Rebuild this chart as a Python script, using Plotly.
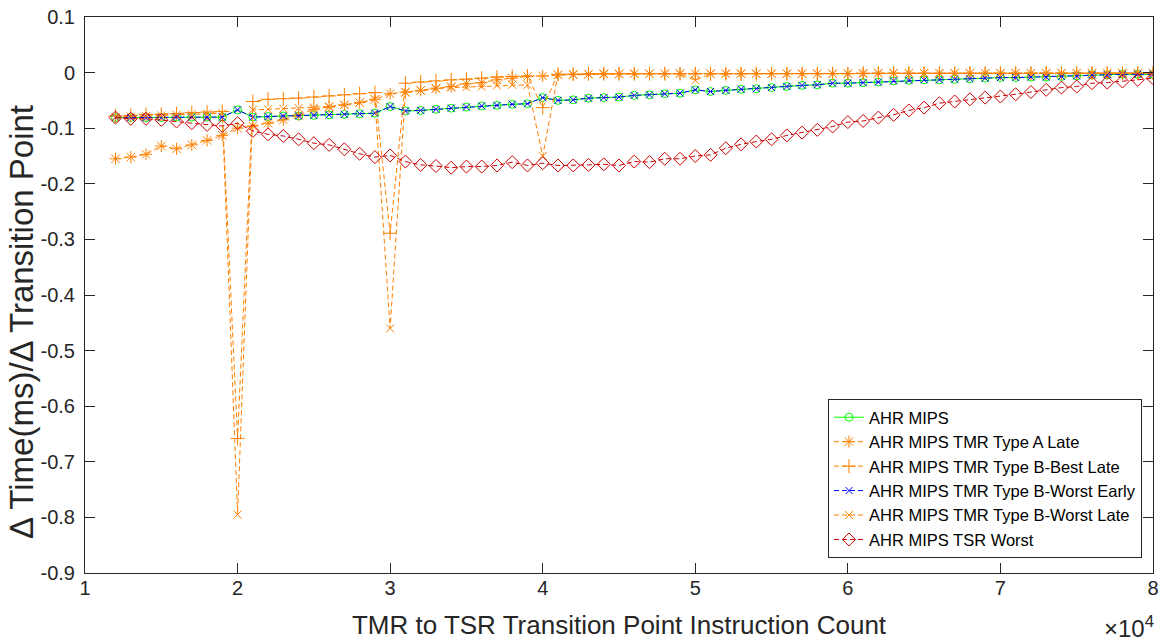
import plotly.graph_objects as go

# Instruction count (x)
instr_count = [12000, 13000, 14000, 15000, 16000, 17000, 18000, 19000, 20000, 21000,
               22000, 23000, 24000, 25000, 26000, 27000, 28000, 29000, 30000, 31000,
               32000, 33000, 34000, 35000, 36000, 37000, 38000, 39000, 40000, 41000,
               42000, 43000, 44000, 45000, 46000, 47000, 48000, 49000, 50000, 51000,
               52000, 53000, 54000, 55000, 56000, 57000, 58000, 59000, 60000, 61000,
               62000, 63000, 64000, 65000, 66000, 67000, 68000, 69000, 70000, 71000,
               72000, 73000, 74000, 75000, 76000, 77000, 78000, 79000, 80000]

ahr_mips = [-0.081, -0.081, -0.081, -0.081, -0.080, -0.080, -0.080, -0.080, -0.067, -0.080,
            -0.079, -0.078, -0.078, -0.077, -0.076, -0.075, -0.074, -0.073, -0.061, -0.069,
            -0.068, -0.066, -0.064, -0.062, -0.060, -0.059, -0.057, -0.056, -0.045, -0.050,
            -0.049, -0.046, -0.045, -0.044, -0.041, -0.040, -0.038, -0.037, -0.031, -0.034,
            -0.032, -0.030, -0.029, -0.027, -0.025, -0.023, -0.022, -0.019, -0.019, -0.018,
            -0.017, -0.015, -0.014, -0.013, -0.013, -0.012, -0.011, -0.010, -0.009, -0.009,
            -0.008, -0.008, -0.007, -0.006, -0.004, -0.004, -0.003, -0.003, -0.003]

tmr_a_late = [-0.155, -0.152, -0.147, -0.132, -0.137, -0.130, -0.122, -0.113, -0.100, -0.096,
              -0.091, -0.085, -0.076, -0.066, -0.062, -0.058, -0.054, -0.048, -0.038, -0.035,
              -0.032, -0.028, -0.025, -0.020, -0.018, -0.013, -0.010, -0.007, -0.006, -0.004,
              -0.003, -0.003, -0.002, -0.002, -0.002, -0.002, -0.002, -0.002, -0.002, -0.002,
              -0.002, -0.002, -0.002, -0.002, -0.002, -0.002, -0.002, -0.002, -0.002, -0.002,
              -0.001, -0.001, -0.001, -0.001, -0.001, -0.001, -0.001, -0.001, -0.001, -0.001,
              -0.001, -0.001, -0.001, -0.001, -0.001, -0.001, -0.001, -0.001, -0.001]

tmr_b_best_late = [-0.078, -0.077, -0.075, -0.075, -0.074, -0.072, -0.071, -0.070, -0.658, -0.052,
                   -0.048, -0.047, -0.046, -0.044, -0.042, -0.040, -0.038, -0.036, -0.289, -0.019,
                   -0.017, -0.015, -0.013, -0.012, -0.010, -0.008, -0.007, -0.006, -0.063, -0.003,
                   -0.003, -0.002, -0.002, -0.002, -0.002, -0.002, -0.002, -0.002, -0.002, -0.002,
                   -0.002, -0.002, -0.002, -0.002, -0.002, -0.002, -0.002, -0.002, -0.002, -0.001,
                   -0.001, -0.001, -0.001, -0.001, -0.001, -0.001, -0.001, -0.001, -0.001, -0.001,
                   -0.001, -0.001, -0.001, -0.001, -0.001, -0.001, -0.001, -0.001, -0.001]

tmr_b_worst_early = [-0.081, -0.081, -0.081, -0.081, -0.080, -0.080, -0.080, -0.080, -0.067, -0.080,
                     -0.079, -0.078, -0.078, -0.077, -0.076, -0.075, -0.074, -0.073, -0.061, -0.069,
                     -0.068, -0.066, -0.064, -0.062, -0.060, -0.059, -0.057, -0.056, -0.045, -0.050,
                     -0.049, -0.046, -0.045, -0.044, -0.041, -0.040, -0.038, -0.037, -0.031, -0.034,
                     -0.032, -0.030, -0.029, -0.027, -0.025, -0.023, -0.022, -0.019, -0.019, -0.018,
                     -0.017, -0.015, -0.014, -0.013, -0.013, -0.012, -0.011, -0.010, -0.009, -0.009,
                     -0.008, -0.008, -0.007, -0.006, -0.004, -0.004, -0.003, -0.003, -0.003]

tmr_b_worst_late = [-0.080, -0.079, -0.078, -0.077, -0.076, -0.075, -0.074, -0.073, -0.795, -0.067,
                    -0.066, -0.065, -0.064, -0.063, -0.061, -0.058, -0.054, -0.048, -0.460, -0.036,
                    -0.032, -0.029, -0.027, -0.026, -0.025, -0.023, -0.022, -0.022, -0.150, -0.004,
                    -0.004, -0.003, -0.003, -0.003, -0.002, -0.002, -0.002, -0.002, -0.014, -0.002,
                    -0.002, -0.002, -0.002, -0.002, -0.002, -0.002, -0.002, -0.002, -0.002, -0.001,
                    -0.001, -0.001, -0.001, -0.001, -0.001, -0.001, -0.001, -0.001, -0.001, -0.001,
                    -0.001, -0.001, -0.001, -0.001, -0.001, -0.001, -0.001, -0.001, -0.001]

tsr_worst = [-0.081, -0.083, -0.083, -0.085, -0.088, -0.091, -0.094, -0.096, -0.091, -0.105,
             -0.111, -0.114, -0.120, -0.127, -0.130, -0.138, -0.146, -0.152, -0.149, -0.160,
             -0.166, -0.168, -0.171, -0.169, -0.169, -0.167, -0.161, -0.167, -0.163, -0.167,
             -0.167, -0.166, -0.165, -0.167, -0.160, -0.161, -0.155, -0.155, -0.150, -0.148,
             -0.136, -0.129, -0.124, -0.120, -0.113, -0.108, -0.103, -0.097, -0.089, -0.087,
             -0.081, -0.076, -0.068, -0.063, -0.055, -0.052, -0.048, -0.045, -0.043, -0.039,
             -0.035, -0.031, -0.027, -0.025, -0.019, -0.018, -0.016, -0.013, -0.010]

series_names = ["AHR MIPS", "AHR MIPS TMR Type A Late", "AHR MIPS TMR Type B-Best Late",
                "AHR MIPS TMR Type B-Worst Early", "AHR MIPS TMR Type B-Worst Late",
                "AHR MIPS TSR Worst"]

x_tick_vals = [10000, 20000, 30000, 40000, 50000, 60000, 70000, 80000]
x_tick_text = ["1", "2", "3", "4", "5", "6", "7", "8"]
y_tick_vals = [0.1, 0, -0.1, -0.2, -0.3, -0.4, -0.5, -0.6, -0.7, -0.8, -0.9]
y_tick_text = ["0.1", "0", "-0.1", "-0.2", "-0.3", "-0.4", "-0.5", "-0.6", "-0.7", "-0.8", "-0.9"]

x_title = "TMR to TSR Transition Point Instruction Count"
y_title = "Δ Time(ms)/Δ Transition Point"

FONT = "Liberation Sans, Arial, Helvetica, sans-serif"
AX = "#262626"
GREEN = "#00ff00"
ORANGE = "#ff8000"
BLUE = "#0000ff"
RED = "#cc0000"

styles = [
    dict(color=GREEN, dash="solid", symbol="circle-open", size=8),
    dict(color=ORANGE, dash="5px,3px", symbol="asterisk-open", size=10),
    dict(color=ORANGE, dash="5px,3px", symbol="cross-thin-open", size=10),
    dict(color=BLUE, dash="5px,3px", symbol="x-thin-open", size=7),
    dict(color=ORANGE, dash="5px,3px", symbol="x-thin-open", size=8),
    dict(color=RED, dash="5px,3px", symbol="diamond-open", size=10),
]
data = [ahr_mips, tmr_a_late, tmr_b_best_late, tmr_b_worst_early, tmr_b_worst_late, tsr_worst]

fig = go.Figure()
for name, ys, st in zip(series_names, data, styles):
    fig.add_trace(go.Scatter(
        x=instr_count, y=ys, name=name, mode="lines+markers",
        line=dict(color=st["color"], width=1, dash=st["dash"]),
        marker=dict(symbol=st["symbol"], size=st["size"], color=st["color"],
                    line=dict(color=st["color"], width=1)),
    ))

fig.update_layout(
    width=1160, height=641,
    margin=dict(l=85, r=7, t=17, b=68),
    paper_bgcolor="white", plot_bgcolor="white",
    font=dict(family=FONT, color=AX),
    showlegend=True,
    legend=dict(x=0.9897, y=0.027, xanchor="right", yanchor="bottom",
                bgcolor="white", bordercolor=AX, borderwidth=1,
                font=dict(family=FONT, size=16.5, color="black"),
                tracegroupgap=0, itemwidth=30),
    xaxis=dict(range=[10000, 80000], tickvals=x_tick_vals, ticktext=x_tick_text,
               ticks="inside", ticklen=10, tickcolor=AX, showline=True, linecolor=AX,
               linewidth=1, mirror="ticks", showgrid=False, zeroline=False,
               tickfont=dict(family=FONT, size=20, color=AX), ticklabelstandoff=-3,
               title=dict(text=x_title,
                          font=dict(family=FONT, size=26, color=AX), standoff=17),
               automargin=False),
    yaxis=dict(range=[-0.9, 0.1], tickvals=y_tick_vals, ticktext=y_tick_text,
               ticks="inside", ticklen=10, tickcolor=AX, showline=True, linecolor=AX,
               linewidth=1, mirror="ticks", showgrid=False, zeroline=False,
               tickfont=dict(family=FONT, size=20, color=AX), ticklabelstandoff=5,
               automargin=False),
    annotations=[
        dict(text=y_title, textangle=-90, xref="paper", yref="paper",
             x=-0.0599, y=0.4514, xanchor="center", yanchor="middle", showarrow=False,
             font=dict(family=FONT, size=33, color=AX)),
        dict(text="×10<sup>4</sup>", xref="paper", yref="paper",
             x=1.003, y=-0.128, xanchor="right", yanchor="bottom", showarrow=False,
             font=dict(family=FONT, size=24, color=AX)),
    ],
)

fig.write_html("out.html", config={"displayModeBar": False},
               post_script="document.body.style.margin='0';document.body.style.padding='0';")
